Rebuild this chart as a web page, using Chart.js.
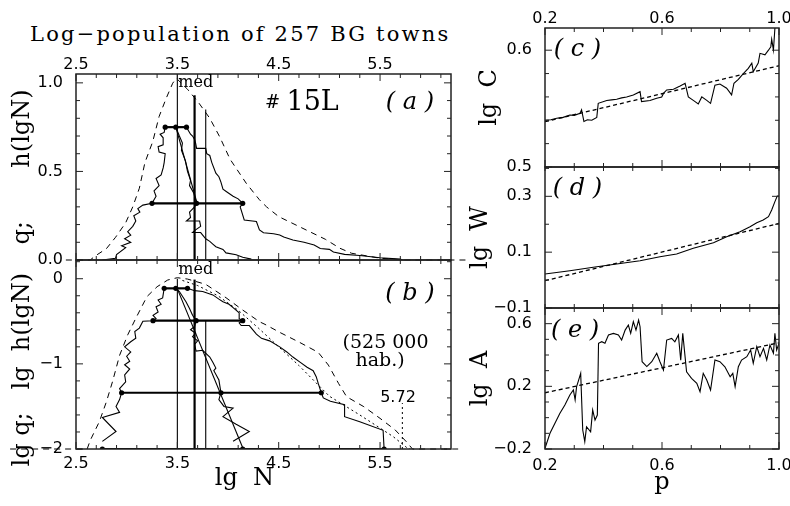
<!DOCTYPE html>
<html>
<head>
<meta charset="utf-8">
<script src="https://cdn.jsdelivr.net/npm/chart.js@4.4.1/dist/chart.umd.min.js"></script>
<style>
  html, body { margin: 0; padding: 0; background: #fff; }
  #fig { position: relative; width: 790px; height: 506px; overflow: hidden; }
  #fig canvas { position: absolute; left: 0; top: 0; }
  #title {
    position: absolute; left: 30px; top: 22px; color: #000; white-space: nowrap;
    font: 21px/24px "DejaVu Serif", serif; letter-spacing: 2.2px;
  }
</style>
</head>
<body>
<div id="fig">
  <div id="title">Log−population of 257 BG towns</div>
  <canvas id="pa" width="790" height="506"></canvas>
  <canvas id="pb" width="790" height="506"></canvas>
  <canvas id="pc" width="790" height="506"></canvas>
  <canvas id="pd" width="790" height="506"></canvas>
  <canvas id="pe" width="790" height="506"></canvas>
</div>
<script>
// ---------- panel (a): q and h(lgN) against lg N ----------
const A_ENVELOPE = [[2.40,0],[2.64,0],[2.69,0.023],[2.80,0.064],[2.89,0.128],[2.99,0.21],[3.06,0.30],[3.125,0.405],
  [3.18,0.55],[3.257,0.668],[3.32,0.81],[3.39,0.913],[3.454,0.998],[3.49,1.026],[3.60,0.964],[3.71,0.888],[3.82,0.80],
  [3.92,0.693],[4.02,0.569],[4.18,0.433],[4.31,0.34],[4.38,0.30],[4.50,0.245],[4.69,0.192],[4.96,0.117],[5.105,0.066],
  [5.22,0.038],[5.50,0.01],[5.75,0],[6.35,0]]
const A_LEFT = [[2.76,0.0],[2.89,0.01],[2.90,0.03],[2.99,0.07],[2.95,0.08],[3.04,0.10],[2.98,0.12],[3.04,0.14],
  [3.01,0.16],[3.06,0.19],[3.09,0.22],[3.07,0.25],[3.13,0.27],[3.11,0.29],[3.16,0.31],[3.25,0.32],[3.29,0.36],
  [3.27,0.39],[3.32,0.42],[3.29,0.46],[3.34,0.48],[3.36,0.52],[3.37,0.55],[3.38,0.60],[3.32,0.61],[3.31,0.64],
  [3.36,0.65],[3.36,0.69],[3.33,0.71],[3.37,0.72],[3.38,0.75]]
const A_RIGHT = [[3.59,0.75],[3.61,0.73],[3.63,0.71],[3.65,0.70],[3.67,0.68],[3.68,0.66],[3.69,0.63],[3.78,0.63],
  [3.79,0.60],[3.82,0.59],[3.84,0.55],[3.88,0.49],[3.91,0.47],[3.93,0.44],[3.95,0.40],[4.00,0.38],[4.05,0.36],
  [4.10,0.345],[4.145,0.32],[4.12,0.30],[4.16,0.226],[4.28,0.217],[4.31,0.17],[4.35,0.154],[4.45,0.148],[4.51,0.141],
  [4.55,0.13],[4.64,0.113],[4.75,0.10],[4.85,0.085],[4.91,0.065],[5.00,0.06],[5.04,0.045],[5.15,0.032],[5.30,0.025],
  [5.50,0.013],[5.70,0.005],[5.72,0]]
const A_INNER = [[3.485,0.75],[3.52,0.70],[3.55,0.66],[3.54,0.62],[3.58,0.56],[3.60,0.50],[3.63,0.45],[3.62,0.42],
  [3.66,0.38],[3.68,0.34],[3.69,0.32],[3.67,0.30],[3.62,0.27],[3.63,0.24],[3.59,0.22],[3.72,0.22],[3.73,0.19],
  [3.68,0.17],[3.65,0.155],[3.73,0.155],[3.78,0.12],[3.82,0.105],[3.85,0.09],[3.88,0.075],[3.95,0.06],[3.98,0.04],
  [4.08,0.03],[4.145,0.015],[4.23,0.005]]
const A_FIT = [[3.485,0.75],[3.70,0.31]]
const A_BAR_TOP = [[3.38,0.75],[3.485,0.75],[3.59,0.75]]
const A_BAR_MID = [[3.25,0.32],[3.69,0.32],[4.145,0.32]]
const A_MEAN = [[3.50,0],[3.50,1.05]]
const A_MED = [[3.67,0],[3.67,0.93]]
const A_GEO = [[3.78,0],[3.78,0.85]]

// ---------- panel (b): lg q and lg h(lgN) against lg N ----------
const B_ENVELOPE = [[1.85,-2],[2.61,-2],[2.64,-1.90],[2.73,-1.68],[2.80,-1.445],[2.86,-1.21],[2.93,-0.90],[3.01,-0.66],
  [3.09,-0.465],[3.20,-0.21],[3.30,-0.094],[3.405,-0.015],[3.50,0.012],[3.60,-0.004],[3.78,-0.066],[3.98,-0.223],
  [4.145,-0.368],[4.31,-0.505],[4.365,-0.536],[4.51,-0.63],[4.71,-0.75],[4.89,-0.865],[4.99,-1.014],[5.09,-1.229],
  [5.17,-1.386],[5.34,-1.503],[5.50,-1.64],[5.65,-1.777],[5.76,-1.915],[5.82,-2],[6.30,-2]]
const B_FIT_CURVE = [[3.55,-0.02],[3.70,-0.08],[3.90,-0.20],[4.10,-0.37],[4.30,-0.58],[4.50,-0.80],[4.70,-1.02],
  [4.90,-1.26],[5.00,-1.38],[5.30,-1.60],[5.63,-1.855],[5.76,-1.98],[5.80,-2.0]]
const B_LEFT = [[2.76,-1.91],[2.895,-1.795],[2.76,-1.63],[2.93,-1.57],[2.895,-1.50],[2.93,-1.42],[2.95,-1.339],
  [2.93,-1.29],[2.99,-1.21],[2.98,-1.13],[3.03,-1.06],[2.98,-1.01],[3.03,-0.97],[3.00,-0.91],[3.04,-0.86],[2.98,-0.80],
  [3.04,-0.74],[3.09,-0.70],[3.08,-0.62],[3.125,-0.58],[3.16,-0.50],[3.26,-0.493],[3.29,-0.47],[3.26,-0.43],
  [3.31,-0.39],[3.29,-0.33],[3.34,-0.30],[3.31,-0.25],[3.355,-0.225],[3.37,-0.113]]
const B_RIGHT = [[3.60,-0.113],[3.67,-0.14],[3.75,-0.15],[3.80,-0.17],[3.85,-0.19],[3.91,-0.24],[3.95,-0.27],
  [4.01,-0.30],[4.05,-0.34],[4.11,-0.40],[4.11,-0.47],[4.145,-0.493],[4.11,-0.52],[4.13,-0.55],[4.21,-0.55],
  [4.28,-0.65],[4.33,-0.70],[4.41,-0.73],[4.51,-0.80],[4.58,-0.86],[4.64,-0.92],[4.71,-0.98],[4.78,-1.04],
  [4.84,-1.08],[4.87,-1.15],[4.89,-1.23],[4.92,-1.339],[4.94,-1.40],[5.01,-1.44],[5.15,-1.48],[5.15,-1.62],
  [5.30,-1.68],[5.53,-1.78],[5.54,-2.0]]
const B_INNER = [[3.485,-0.113],[3.52,-0.15],[3.585,-0.27],[3.62,-0.35],[3.65,-0.43],[3.685,-0.493],[3.67,-0.56],
  [3.63,-0.60],[3.68,-0.64],[3.65,-0.68],[3.70,-0.73],[3.67,-0.77],[3.685,-0.85],[3.75,-0.84],[3.82,-0.92],
  [3.85,-0.98],[3.88,-1.05],[3.86,-1.08],[3.91,-1.19],[3.93,-1.339],[3.91,-1.42],[3.96,-1.50],[4.05,-1.52],
  [3.95,-1.62],[4.08,-1.71],[4.21,-1.795],[4.05,-1.91]]
const B_FIT = [[3.49,-0.09],[4.15,-2.0]]
const B_BAR_1 = [[3.37,-0.113],[3.485,-0.113],[3.60,-0.113]]
const B_BAR_2 = [[3.26,-0.493],[3.685,-0.493],[4.145,-0.493]]
const B_BAR_3 = [[2.95,-1.339],[3.93,-1.339],[4.92,-1.339]]
const B_BAR_4 = [[2.76,-2],[4.145,-2],[5.54,-2]]
const B_MEAN = [[3.50,-2],[3.50,0]]
const B_MED = [[3.67,-2],[3.67,-0.01]]
const B_GEO = [[3.78,-2],[3.78,-0.49]]
const B_MAX = [[5.72,-2],[5.72,-1.46]]

// ---------- panels (c), (d), (e): lg C, lg W, lg A against p ----------
const C_LGC = [[0.200,0.540],[0.220,0.5405],[0.240,0.5417],[0.262,0.5425],[0.285,0.5445],[0.300,0.5442],
  [0.320,0.546],[0.325,0.549],[0.333,0.539],[0.345,0.5405],[0.360,0.540],[0.377,0.5425],[0.382,0.5545],
  [0.411,0.557],[0.428,0.5575],[0.445,0.558],[0.462,0.5592],[0.479,0.560],[0.502,0.5617],[0.525,0.5645],
  [0.530,0.556],[0.559,0.557],[0.582,0.5588],[0.599,0.560],[0.605,0.563],[0.616,0.566],[0.639,0.5665],
  [0.662,0.5693],[0.679,0.5717],[0.690,0.560],[0.707,0.557],[0.724,0.554],[0.736,0.560],[0.753,0.557],
  [0.766,0.5545],[0.781,0.570],[0.798,0.571],[0.821,0.5674],[0.838,0.5617],[0.846,0.5717],[0.861,0.575],
  [0.878,0.580],[0.895,0.5845],[0.907,0.5888],[0.912,0.5816],[0.929,0.589],[0.935,0.5973],[0.952,0.596],
  [0.964,0.600],[0.972,0.603],[0.975,0.6093],[0.981,0.600],[0.986,0.6188],[0.992,0.623],[0.998,0.630]]
const C_FIT = [[0.2,0.5388],[1.0,0.5867]]
const D_LGW = [[0.200,0.0218],[0.285,0.0336],[0.365,0.0457],[0.445,0.0576],[0.525,0.0694],[0.593,0.0838],
  [0.650,0.0934],[0.707,0.114],[0.776,0.134],[0.821,0.155],[0.867,0.173],[0.901,0.191],[0.924,0.2055],
  [0.946,0.215],[0.964,0.227],[0.975,0.251],[0.986,0.281],[0.994,0.301],[1.000,0.301]]
const D_FIT = [[0.2,-0.0022],[1.0,0.203]]
const E_LGA = [[0.200,-0.1955],[0.217,-0.10],[0.234,-0.036],[0.251,0.028],[0.268,0.081],[0.285,0.145],
  [0.297,0.177],[0.303,0.113],[0.308,0.198],[0.315,0.240],[0.322,0.283],[0.329,-0.079],[0.336,-0.153],
  [0.342,-0.058],[0.356,-0.090],[0.363,0.049],[0.371,-0.015],[0.379,0.017],[0.383,0.4745],[0.394,0.485],
  [0.405,0.4745],[0.417,0.5275],[0.434,0.538],[0.451,0.5275],[0.462,0.4955],[0.474,0.559],[0.485,0.591],
  [0.493,0.538],[0.502,0.6125],[0.511,0.559],[0.520,0.623],[0.525,0.5806],[0.532,0.357],[0.548,0.326],
  [0.565,0.357],[0.582,0.411],[0.593,0.357],[0.605,0.304],[0.616,0.4955],[0.633,0.506],[0.644,0.4845],
  [0.656,0.5275],[0.664,0.3665],[0.671,0.538],[0.684,0.293],[0.701,0.251],[0.719,0.219],[0.730,0.166],
  [0.741,0.283],[0.753,0.240],[0.766,0.1765],[0.781,0.368],[0.798,0.357],[0.815,0.325],[0.833,0.261],
  [0.842,0.283],[0.850,0.198],[0.861,0.325],[0.872,0.368],[0.890,0.389],[0.903,0.432],[0.912,0.347],
  [0.924,0.453],[0.935,0.389],[0.947,0.4425],[0.958,0.368],[0.969,0.464],[0.981,0.411],[0.986,0.538],
  [0.992,0.432],[1.000,0.4745]]
const E_FIT = [[0.2,0.159],[1.0,0.478]]

// ---------- axis ticks and tick labels ----------
const LEFT_X_TICKS = [2.5, 2.7, 2.9, 3.1, 3.3, 3.5, 3.7, 3.9, 4.1, 4.3, 4.5, 4.7, 4.9, 5.1, 5.3, 5.5, 5.7, 5.9, 6.1]
const LEFT_X_LABELS = ['2.5', '3.5', '4.5', '5.5']
const A_Y_TICKS = [0, 0.1, 0.2, 0.3, 0.4, 0.5, 0.6, 0.7, 0.8, 0.9, 1.0]
const A_Y_LABELS = ['0.0', '0.5', '1.0']
const B_Y_TICKS = [-2, -1.8, -1.6, -1.4, -1.2, -1, -0.8, -0.6, -0.4, -0.2, 0, 0.2]
const B_Y_LABELS = ['−2', '−1', '0']
const P_TICKS = [0.2, 0.3, 0.4, 0.5, 0.6, 0.7, 0.8, 0.9, 1.0]
const P_LABELS = ['0.2', '0.6', '1.0']
const C_Y_TICKS = [0.5, 0.52, 0.54, 0.56, 0.58, 0.6]
const C_Y_LABELS = ['0.5', '0.6']
const D_Y_TICKS = [-0.1, 0, 0.1, 0.2, 0.3, 0.4]
const D_Y_LABELS = ['−0.1', '0.1', '0.3']
const E_Y_TICKS = [-0.2, -0.1, 0, 0.1, 0.2, 0.3, 0.4, 0.5, 0.6]
const E_Y_LABELS = ['−0.2', '0.2', '0.6']

const W = 790
const H = 506
const SERIF = '"DejaVu Serif", serif'
const SANS = '"DejaVu Sans", sans-serif'

const pts = arr => arr.map(([x, y]) => ({ x, y }))
const num = s => Number(s.replace('\u2212', '-'))
const labelFor = (labels, v) => labels.find(s => Math.abs(num(s) - v) < 1e-6) ?? ''

function line(data, extra = {}) {
  return Object.assign({
    data: pts(data),
    borderColor: '#000',
    borderWidth: 1.1,
    pointRadius: 0,
    fill: false,
    tension: 0
  }, extra)
}
const dashed = d => line(d, { borderDash: [6, 5], borderWidth: 1, clip: false })
const dotted = d => line(d, { borderDash: [2, 3], borderWidth: 1 })
const fitLine = d => line(d, { borderDash: [4, 3], borderWidth: 1.3 })
const thick = d => line(d, { borderWidth: 2.2 })
const bar = d => line(d, { borderWidth: 2.2, pointRadius: 2.6, pointBackgroundColor: '#000', pointBorderWidth: 0 })

// frame round the plot area, with inward ticks on all four sides
const framePlugin = {
  id: 'frame',
  afterDatasetsDraw(chart) {
    const { ctx, chartArea: a, scales } = chart
    ctx.save()
    ctx.strokeStyle = '#222'
    ctx.lineWidth = 1.5
    ctx.strokeRect(a.left, a.top, a.right - a.left, a.bottom - a.top)
    ctx.lineWidth = 1
    ctx.beginPath()
    for (const t of scales.x.ticks) {
      const px = scales.x.getPixelForValue(t.value)
      const len = t.label ? 7 : 4
      ctx.moveTo(px, a.top); ctx.lineTo(px, a.top + len)
      ctx.moveTo(px, a.bottom); ctx.lineTo(px, a.bottom - len)
    }
    for (const t of scales.y.ticks) {
      const py = scales.y.getPixelForValue(t.value)
      const len = t.label ? 7 : 4
      ctx.moveTo(a.left, py); ctx.lineTo(a.left + len, py)
      ctx.moveTo(a.right, py); ctx.lineTo(a.right - len, py)
    }
    ctx.stroke()
    ctx.restore()
  }
}

// text notes placed in data coordinates
const notesPlugin = {
  id: 'notes',
  afterDatasetsDraw(chart, args, opts) {
    const { ctx, scales: { x, y } } = chart
    for (const n of opts.items || []) {
      ctx.save()
      ctx.font = n.font
      ctx.fillStyle = '#000'
      ctx.textAlign = n.align || 'center'
      ctx.textBaseline = 'middle'
      ctx.fillText(n.text, x.getPixelForValue(n.x), y.getPixelForValue(n.y))
      ctx.restore()
    }
  }
}

function makePanel(id, area, xo, yo, datasets, notes) {
  const xBox = xo.pos === 'top' ? area.top : H - area.bottom
  const titleFont = { family: SERIF, size: 24 }
  const tickFont = { family: SANS, size: 16 }
  return new Chart(document.getElementById(id), {
    type: 'line',
    data: { datasets },
    plugins: [framePlugin, notesPlugin],
    options: {
      responsive: false,
      animation: false,
      devicePixelRatio: 1,
      events: [],
      layout: {
        padding: {
          left: area.left - yo.width,
          right: W - area.right,
          top: xo.pos === 'top' ? 0 : area.top,
          bottom: xo.pos === 'top' ? H - area.bottom : 0
        }
      },
      plugins: {
        legend: { display: false },
        tooltip: { enabled: false },
        notes: { items: notes }
      },
      scales: {
        x: {
          type: 'linear',
          position: xo.pos,
          min: xo.min,
          max: xo.max,
          afterBuildTicks: s => { s.ticks = xo.ticks.map(value => ({ value })) },
          afterFit: s => { s.height = xBox; s.paddingLeft = 0; s.paddingRight = 0 },
          grid: { display: false, drawTicks: false },
          border: { display: false },
          ticks: {
            autoSkip: false, maxRotation: 0, padding: xo.pad || 0, color: '#000', font: tickFont,
            callback: v => labelFor(xo.labels, v)
          },
          title: xo.title
            ? { display: true, text: xo.title, color: '#000', font: titleFont, padding: { top: 0, bottom: xo.titlePad } }
            : { display: false }
        },
        y: {
          type: 'linear',
          position: 'left',
          min: yo.min,
          max: yo.max,
          afterBuildTicks: s => { s.ticks = yo.ticks.map(value => ({ value })) },
          afterFit: s => { s.width = yo.width; s.paddingTop = 0; s.paddingBottom = 0 },
          grid: { display: false, drawTicks: false },
          border: { display: false },
          ticks: {
            autoSkip: false, padding: 13, color: '#000', font: tickFont,
            callback: v => labelFor(yo.labels, v)
          },
          title: { display: true, text: yo.title, color: '#000', font: titleFont, padding: { top: yo.titlePad, bottom: 0 } }
        }
      }
    }
  })
}

const small = `16px ${SERIF}`

makePanel('pa', { left: 76, top: 74, right: 451, bottom: 260 },
  { pos: 'top', min: 2.5, max: 6.2, ticks: LEFT_X_TICKS, labels: LEFT_X_LABELS, pad: 0 },
  { min: 0, max: 1.05, ticks: A_Y_TICKS, labels: A_Y_LABELS, width: 76, title: 'q;       h(lgN)', titlePad: 8.6 },
  [dashed(A_ENVELOPE), line(A_LEFT), line(A_RIGHT), line(A_INNER), line(A_FIT),
    bar(A_BAR_TOP), bar(A_BAR_MID), line(A_MEAN), thick(A_MED), line(A_GEO)],
  [
    { x: 3.51, y: 0.998, text: 'med', font: small, align: 'left' },
    { x: 4.365, y: 0.885, text: '#', font: `18px ${SERIF}`, align: 'left' },
    { x: 4.577, y: 0.889, text: '15L', font: `27px ${SERIF}`, align: 'left' },
    { x: 5.795, y: 0.889, text: '( a )', font: `italic 24px ${SERIF}` }
  ])

makePanel('pb', { left: 76, top: 260, right: 451, bottom: 449 },
  { pos: 'bottom', min: 2.5, max: 6.2, ticks: LEFT_X_TICKS, labels: LEFT_X_LABELS, pad: 5, title: 'lg  N     ', titlePad: 12.6 },
  { min: -2, max: 0.22, ticks: B_Y_TICKS, labels: B_Y_LABELS, width: 76, title: 'lg q;   lg  h(lgN)    ', titlePad: 8.6 },
  [dashed(B_ENVELOPE), dotted(B_FIT_CURVE), line(B_LEFT), line(B_RIGHT), line(B_INNER), line(B_FIT),
    bar(B_BAR_1), bar(B_BAR_2), bar(B_BAR_3), bar(B_BAR_4), line(B_MEAN), thick(B_MED), line(B_GEO), dotted(B_MAX)],
  [
    { x: 3.51, y: 0.10, text: 'med', font: small, align: 'left' },
    { x: 5.795, y: -0.18, text: '( b )', font: `italic 24px ${SERIF}` },
    { x: 5.554, y: -0.76, text: '(525 000', font: `19px ${SERIF}` },
    { x: 5.50, y: -0.97, text: 'hab.)', font: `19px ${SERIF}` },
    { x: 5.677, y: -1.404, text: '5.72', font: `16px ${SANS}` }
  ])

makePanel('pc', { left: 545, top: 28, right: 779, bottom: 167 },
  { pos: 'top', min: 0.2, max: 1.0, ticks: P_TICKS, labels: P_LABELS, pad: 0 },
  { min: 0.5, max: 0.619, ticks: C_Y_TICKS, labels: C_Y_LABELS, width: 85, title: 'lg  C', titlePad: 15.6 },
  [line(C_LGC), fitLine(C_FIT)],
  [{ x: 0.311, y: 0.600, text: '( c )', font: `italic 24px ${SERIF}` }])

makePanel('pd', { left: 545, top: 167, right: 779, bottom: 308 },
  { pos: 'bottom', min: 0.2, max: 1.0, ticks: P_TICKS, labels: [] },
  { min: -0.1, max: 0.405, ticks: D_Y_TICKS, labels: D_Y_LABELS, width: 85, title: 'lg  W', titlePad: 6.6 },
  [line(D_LGW), fitLine(D_FIT)],
  [{ x: 0.311, y: 0.328, text: '( d )', font: `italic 24px ${SERIF}` }])

makePanel('pe', { left: 545, top: 308, right: 779, bottom: 449 },
  { pos: 'bottom', min: 0.2, max: 1.0, ticks: P_TICKS, labels: P_LABELS, pad: 7, title: 'p', titlePad: 8.6 },
  { min: -0.2, max: 0.70, ticks: E_Y_TICKS, labels: E_Y_LABELS, width: 85, title: 'lg  A', titlePad: 6.6 },
  [line(E_LGA), fitLine(E_FIT)],
  [{ x: 0.303, y: 0.553, text: '( e )', font: `italic 24px ${SERIF}` }])
</script>
</body>
</html>
